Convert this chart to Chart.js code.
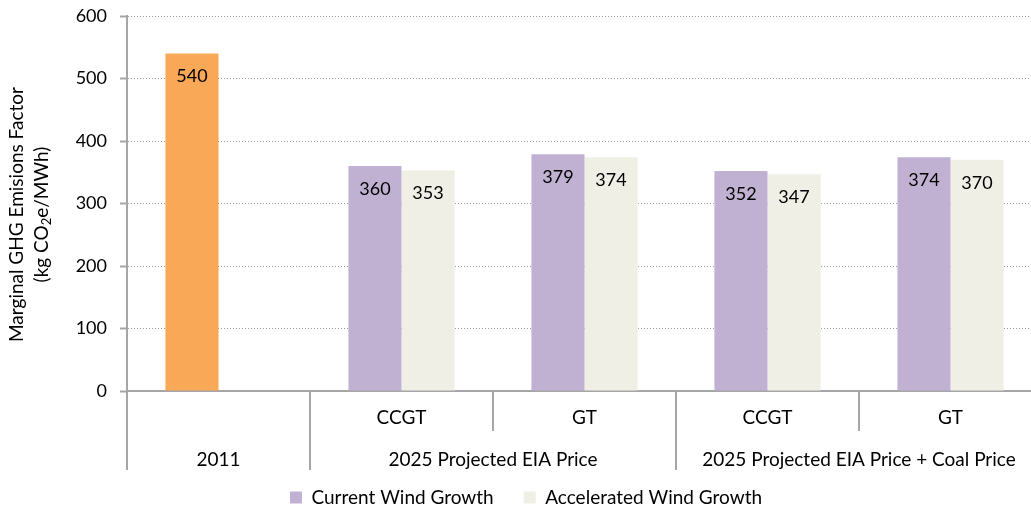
<!DOCTYPE html>
<html lang="en">
<head>
  <meta charset="UTF-8">
  <title>Marginal GHG Emissions Factor</title>
  <script src="https://cdn.jsdelivr.net/npm/chart.js"></script>
  <style>
    html, body { margin: 0; padding: 0; background: #fff; overflow: hidden; }
    #wrap { position: relative; width: 1042px; height: 513px; }
  </style>
</head>
<body>
  <div id="wrap">
    <canvas id="ghgChart"></canvas>
  </div>

  <script>
    // data
    const categories = ['', 'CCGT', 'GT', 'CCGT', 'GT'];
    const groupLabels = ['2011', '2025 Projected EIA Price', '2025 Projected EIA Price + Coal Price'];
    const groupSizes = [1, 2, 2];
    const currentGrowth = [540, 360, 379, 352, 374];
    const acceleratedGrowth = [null, 353, 374, 347, 370];
    const yTicks = [0, 100, 200, 300, 400, 500, 600];

    const FONT = 'Lato, "Open Sans", sans-serif';
    const ORANGE = '#F9A857';
    const PURPLE = '#C0B1D3';
    const CREAM = '#EFEFE6';
    const AXIS = '#A6A6A6';
    const legendColors = [PURPLE, CREAM];

    // value labels inside top of bars
    const barLabels = {
      id: 'barLabels',
      afterDatasetsDraw(chart) {
        const ctx = chart.ctx;
        ctx.save();
        ctx.font = '18px ' + FONT;
        ctx.fillStyle = '#000';
        ctx.textAlign = 'center';
        ctx.textBaseline = 'middle';
        chart.data.datasets.forEach((ds, di) => {
          chart.getDatasetMeta(di).data.forEach((bar, i) => {
            if (ds.data[i] == null) return;
            ctx.fillText(ds.data[i], bar.x, bar.y + 23);
          });
        });
        ctx.restore();
      }
    };

    // two-level category axis + y title
    const multiAxis = {
      id: 'multiAxis',
      afterDraw(chart) {
        const ctx = chart.ctx;
        const x = chart.scales.x;
        const area = chart.chartArea;
        const bottom = area.bottom;
        const half = (x.getPixelForValue(1) - x.getPixelForValue(0)) / 2;

        ctx.save();
        ctx.strokeStyle = AXIS;
        ctx.lineWidth = 2;
        ctx.fillStyle = '#000';
        ctx.font = '19px ' + FONT;
        ctx.textAlign = 'center';
        ctx.textBaseline = 'middle';

        // first row
        categories.forEach((c, i) => {
          if (c) ctx.fillText(c, x.getPixelForValue(i), bottom + 27);
        });

        // separators + group row
        let start = 0;
        groupSizes.forEach((n, g) => {
          const left = x.getPixelForValue(start) - half;
          const right = x.getPixelForValue(start + n - 1) + half;
          ctx.beginPath();
          ctx.moveTo(left, bottom);
          ctx.lineTo(left, bottom + 79);
          ctx.stroke();
          for (let k = 1; k < n; k++) {
            const bx = x.getPixelForValue(start + k) - half;
            ctx.beginPath();
            ctx.moveTo(bx, bottom);
            ctx.lineTo(bx, bottom + 40);
            ctx.stroke();
          }
          ctx.fillText(groupLabels[g], (left + right) / 2, bottom + 69);
          start += n;
        });

        // y axis title with subscript
        const cy = (area.top + area.bottom) / 2 + 11;
        ctx.translate(17, cy);
        ctx.rotate(-Math.PI / 2);
        ctx.fillText('Marginal GHG Emisions Factor', 0, 0);
        const a = '(kg CO', sub = '2', b = 'e/MWh)';
        const wa = ctx.measureText(a).width, wb = ctx.measureText(b).width;
        ctx.font = '13px ' + FONT;
        const ws = ctx.measureText(sub).width;
        let px = -(wa + ws + wb) / 2;
        ctx.textAlign = 'left';
        ctx.font = '19px ' + FONT;
        ctx.fillText(a, px, 25);
        px += wa;
        ctx.font = '13px ' + FONT;
        ctx.fillText(sub, px, 30);
        px += ws;
        ctx.font = '19px ' + FONT;
        ctx.fillText(b, px, 25);
        ctx.restore();
      }
    };

    new Chart(document.getElementById('ghgChart').getContext('2d'), {
      type: 'bar',
      data: {
        labels: categories,
        datasets: [{
          label: 'Current Wind Growth',
          data: currentGrowth,
          backgroundColor: c => (c.dataIndex === 0 ? ORANGE : PURPLE)
        }, {
          label: 'Accelerated Wind Growth',
          data: acceleratedGrowth,
          backgroundColor: CREAM
        }]
      },
      options: {
        responsive: true,
        maintainAspectRatio: false,
        animation: false,
        categoryPercentage: 0.58,
        barPercentage: 1,
        layout: { padding: { top: 0, left: 10, right: 0, bottom: -4 } },
        plugins: {
          tooltip: { enabled: false },
          legend: {
            position: 'bottom',
            labels: {
              boxWidth: 12,
              boxHeight: 12,
              padding: 30,
              color: '#000',
              font: { family: FONT, size: 19 },
              generateLabels: chart => Chart.defaults.plugins.legend.labels.generateLabels(chart)
                .map((l, i) => Object.assign(l, { fillStyle: legendColors[i], strokeStyle: legendColors[i], lineWidth: 0 }))
            }
          }
        },
        scales: {
          x: {
            ticks: { display: false },
            grid: { display: false },
            border: { color: AXIS, width: 2 },
            afterFit: s => { s.height = 67; }
          },
          y: {
            min: 0,
            max: 600,
            afterBuildTicks: s => { s.ticks = yTicks.map(v => ({ value: v })); },
            ticks: { color: '#000', padding: 13, font: { family: FONT, size: 18 } },
            grid: { color: '#9A9A9A', lineWidth: 1, tickLength: 7, tickColor: AXIS, tickWidth: 2 },
            border: { color: AXIS, width: 2, dash: [1, 2] },
            afterFit: s => { s.width = 117; s.paddingTop = 16; }
          }
        }
      },
      plugins: [barLabels, multiAxis]
    });
  </script>
</body>
</html>
